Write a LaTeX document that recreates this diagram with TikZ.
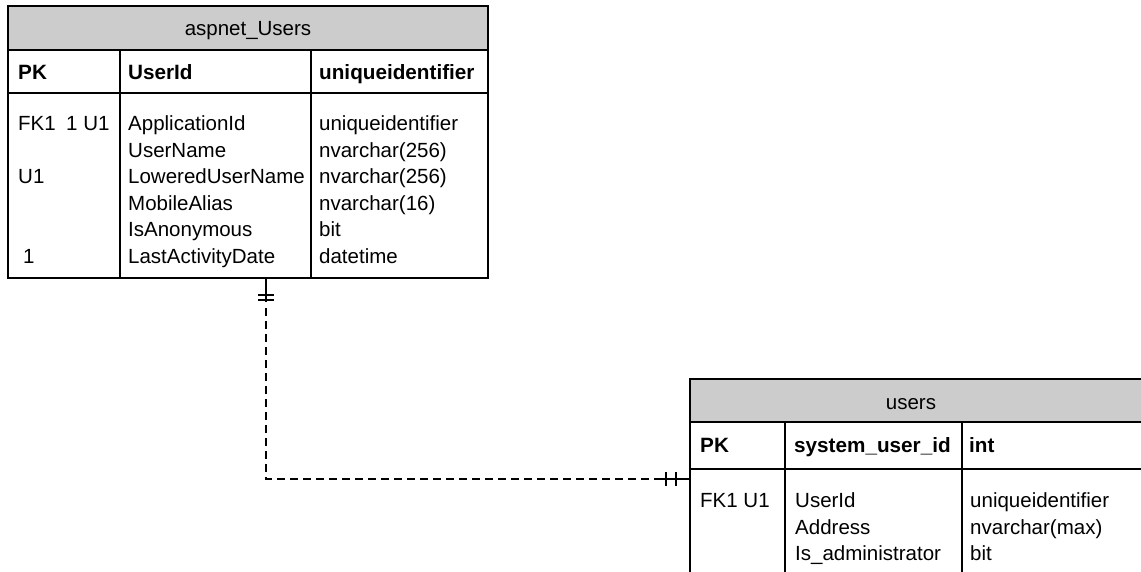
\documentclass[tikz,border=0pt]{standalone}
\usepackage{fontspec}
\setmainfont{Liberation Sans}
\usetikzlibrary{calc}
\definecolor{headgray}{HTML}{CCCCCC}
\begin{document}
\begin{tikzpicture}[x=1pt,y=-1pt,
  frame/.style={draw=black, line width=1.4pt, inner sep=0pt, outer sep=0pt},
  hdr/.style={frame, fill=headgray},
  grid/.style={draw=black, line width=1.4pt},
  txt/.style={anchor=base west, inner sep=0pt, font=\fontsize{20.5}{24}\selectfont},
  ttl/.style={anchor=base, inner sep=0pt, font=\fontsize{20.5}{24}\selectfont},
  key/.style={anchor=base west, inner sep=0pt, font=\bfseries\fontsize{20.7}{24}\selectfont},
  rel/.style={line width=1.8pt},
  reldash/.style={rel, dash pattern=on 8pt off 5pt},
]
\useasboundingbox (0,0) rectangle (1141,571);
\fill[white] (0,0) rectangle (1141,571);

% ---------- table aspnet_Users ----------
\node[hdr, anchor=north west, minimum width=480, minimum height=44] (aspnetHead) at (8,6) {};
\node[frame, anchor=north west, minimum width=480, minimum height=228] (aspnet) at (aspnetHead.south west) {};
\draw[grid] (8,93) -- (488,93);
\draw[grid] (120,50) -- (120,278);
\draw[grid] (311,50) -- (311,278);
\node[ttl] (aspnetTitle) at (248,35) {aspnet\_Users};
\node[key] (aspnetPK)  at (18,79)  {PK};
\node[key] (aspnetPKn) at (128,79) {UserId};
\node[key] (aspnetPKt) at (319,79) {uniqueidentifier};

\node[txt] (a1k) at (18,130)  {FK1};
\node[txt] (a1x) at (66,130)  {1 U1};
\node[txt] (a3k) at (18,183)  {U1};
\node[txt] (a6k) at (23,263)  {1};

\node[txt] (a1n) at (128,130) {ApplicationId};
\node[txt] (a2n) at (128,157) {UserName};
\node[txt] (a3n) at (128,183) {LoweredUserName};
\node[txt] (a4n) at (128,210) {MobileAlias};
\node[txt] (a5n) at (128,236) {IsAnonymous};
\node[txt] (a6n) at (128,263) {LastActivityDate};

\node[txt] (a1t) at (319,130) {uniqueidentifier};
\node[txt] (a2t) at (319,157) {nvarchar(256)};
\node[txt] (a3t) at (319,183) {nvarchar(256)};
\node[txt] (a4t) at (319,210) {nvarchar(16)};
\node[txt] (a5t) at (319,236) {bit};
\node[txt] (a6t) at (319,263) {datetime};

% ---------- table users ----------
\node[hdr, anchor=north west, minimum width=470, minimum height=43] (usersHead) at (690,379) {};
\node[frame, anchor=north west, minimum width=470, minimum height=200] (users) at (usersHead.south west) {};
\draw[grid] (690,469) -- (1160,469);
\draw[grid] (785,422) -- (785,590);
\draw[grid] (962,422) -- (962,590);
\node[ttl] (usersTitle) at (911,409) {users};
\node[key] (usersPK)  at (700,452) {PK};
\node[key] (usersPKn) at (794,452) {system\_user\_id};
\node[key] (usersPKt) at (969,452) {int};

\node[txt] (u1k) at (700,507) {FK1 U1};
\node[txt] (u1n) at (795,507) {UserId};
\node[txt] (u2n) at (795,534) {Address};
\node[txt] (u3n) at (795,560) {Is\_administrator};
\node[txt] (u1t) at (970,507) {uniqueidentifier};
\node[txt] (u2t) at (970,534) {nvarchar(max)};
\node[txt] (u3t) at (970,560) {bit};

% ---------- relationship: one-to-one (aspnet_Users -> users) ----------
\coordinate (relTop) at ($(aspnet.south west)+(258,0)$);
\coordinate (relEnd) at (users.west |- 0,479);
\draw[rel] (relTop) -- ++(0,24);
\draw[rel] ($(relTop)+(-8,17)$) -- ++(16,0);
\draw[rel] ($(relTop)+(-8,22)$) -- ++(16,0);
\draw[reldash] ($(relTop)+(0,30)$) |- ($(relEnd)+(-28,0)$);
\draw[rel] ($(relEnd)+(-28,0)$) -- (relEnd);
\draw[rel] ($(relEnd)+(-24,-7)$) -- ++(0,14);
\draw[rel] ($(relEnd)+(-14,-7)$) -- ++(0,14);
\end{tikzpicture}
\end{document}
